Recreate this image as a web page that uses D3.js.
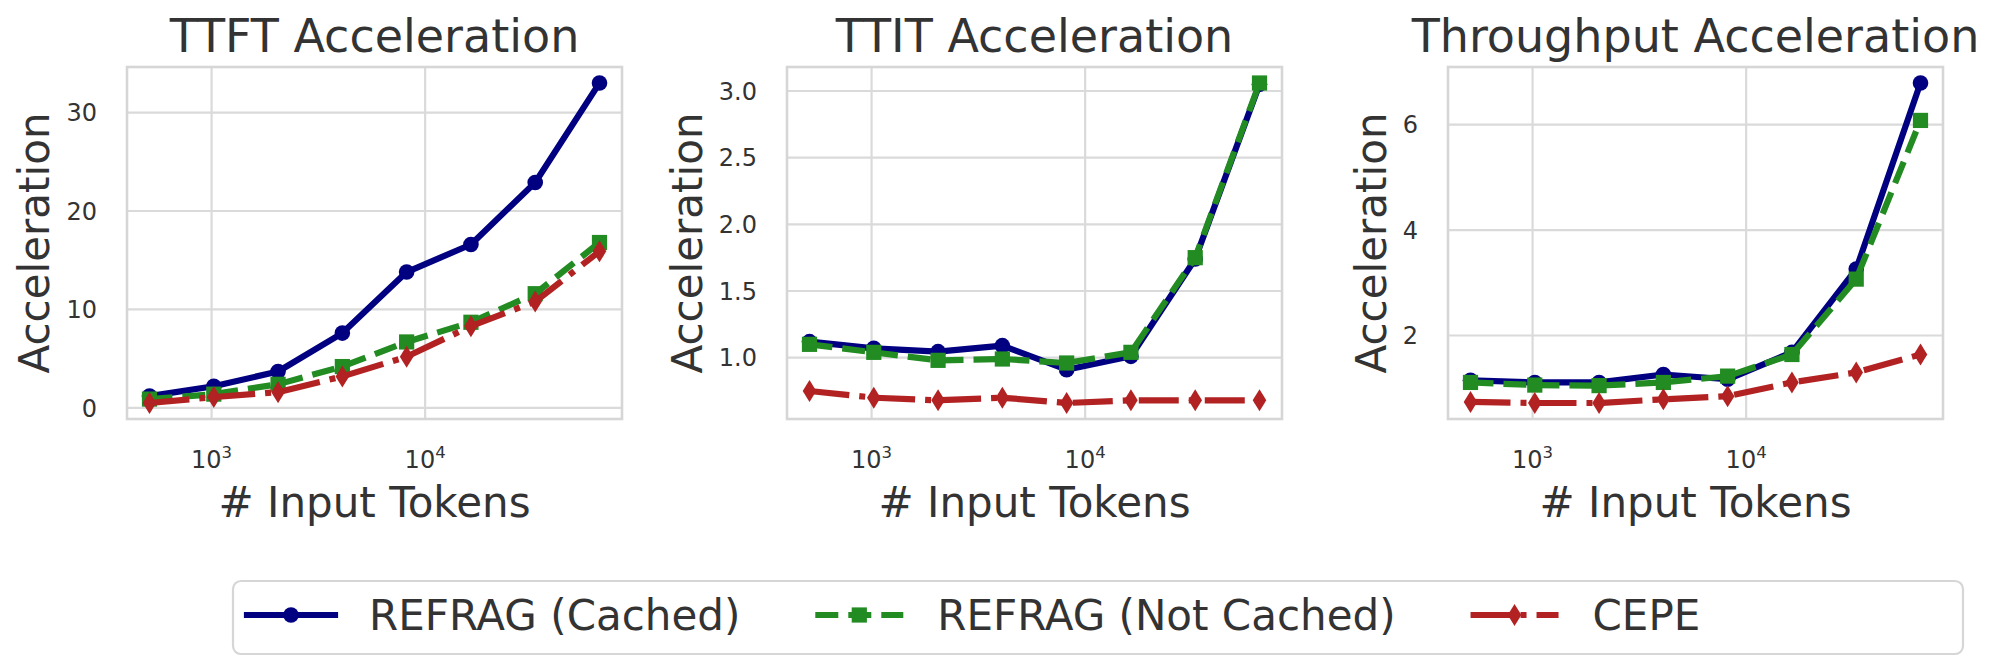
<!DOCTYPE html>
<html>
<head>
<meta charset="utf-8">
<script src="https://cdn.jsdelivr.net/npm/d3@7"></script>
<style>
  body { margin: 0; background: #fff; }
  text { font-family: "DejaVu Sans", sans-serif; fill: #333; }
</style>
</head>
<body>
<div id="container"></div>
<script>
// DATA

const tokens = [512, 1024, 2048, 4096, 8192, 16384, 32768, 65536];
const seriesNames = ["REFRAG (Cached)", "REFRAG (Not Cached)", "CEPE"];
const panelTitles = ["TTFT Acceleration", "TTIT Acceleration", "Throughput Acceleration"];

const ttftCached    = [1.2, 2.2, 3.7, 7.6, 13.8, 16.6, 22.9, 33.0];
const ttftNotCached = [0.9, 1.4, 2.4, 4.2, 6.7, 8.7, 11.6, 16.8];
const ttftCepe      = [0.5, 1.1, 1.6, 3.2, 5.2, 8.3, 10.8, 15.9];

const ttitCached    = [1.12, 1.07, 1.045, 1.09, 0.91, 1.01, 1.74, 3.05];
const ttitNotCached = [1.10, 1.04, 0.98, 0.99, 0.96, 1.04, 1.75, 3.06];
const ttitCepe      = [0.75, 0.70, 0.68, 0.70, 0.66, 0.68, 0.68, 0.68];

const thrCached    = [1.15, 1.11, 1.11, 1.26, 1.17, 1.68, 3.26, 6.79];
const thrNotCached = [1.11, 1.06, 1.05, 1.11, 1.23, 1.64, 3.07, 6.08];
const thrCepe      = [0.74, 0.72, 0.72, 0.79, 0.85, 1.11, 1.30, 1.64];

const xTicks = [1000, 10000];
const xTickExponents = ["3", "4"];
const ttftTicks = [0, 10, 20, 30];
const ttftTickLabels = ["0", "10", "20", "30"];
const ttitTicks = [1.0, 1.5, 2.0, 2.5, 3.0];
const ttitTickLabels = ["1.0", "1.5", "2.0", "2.5", "3.0"];
const thrTicks = [2, 4, 6];
const thrTickLabels = ["2", "4", "6"];

// VARIABLES

const width = 2000;
const height = 672;
const panelLeft = [127, 787, 1448];
const panelW = 495;
const plotTop = 67;
const plotBottom = 419;
const gridColor = "#dadada";

const panels = [
  {title: panelTitles[0], series: [ttftCached, ttftNotCached, ttftCepe], ticks: ttftTicks, labels: ttftTickLabels},
  {title: panelTitles[1], series: [ttitCached, ttitNotCached, ttitCepe], ticks: ttitTicks, labels: ttitTickLabels},
  {title: panelTitles[2], series: [thrCached, thrNotCached, thrCepe], ticks: thrTicks, labels: thrTickLabels}
];

const styles = [
  {color: "#000080", dash: null, cap: "square", marker: "circle"},
  {color: "#228B22", dash: "23,10", cap: "butt", marker: "square"},
  {color: "#B22222", dash: "40,10,6,10", cap: "butt", marker: "thin"}
];

const lw = 6.2;

// marker shapes
function drawMarker(g, type, cx, cy, color) {
  if (type === "circle") {
    g.append("circle").attr("cx", cx).attr("cy", cy).attr("r", 7.8).attr("fill", color);
  } else if (type === "square") {
    g.append("rect").attr("x", cx - 7.6).attr("y", cy - 7.6)
      .attr("width", 15.2).attr("height", 15.2).attr("fill", color);
  } else {
    const hw = 6.8, hh = 11;
    g.append("path")
      .attr("d", `M${cx},${cy - hh}L${cx + hw},${cy}L${cx},${cy + hh}L${cx - hw},${cy}Z`)
      .attr("fill", color);
  }
}

// ELEMENTS

const svg = d3.select("#container")
  .append("svg")
  .attr("width", width)
  .attr("height", height);

svg.append("rect").attr("width", width).attr("height", height).attr("fill", "#fff");

panels.forEach((p, i) => {
  const left = panelLeft[i];
  const right = left + panelW;

  // SCALES (matplotlib style 5% margins)
  const lo = Math.log10(d3.min(tokens)), hi = Math.log10(d3.max(tokens));
  const mx = (hi - lo) * 0.05;
  const xScale = d3.scaleLog()
    .domain([Math.pow(10, lo - mx), Math.pow(10, hi + mx)])
    .range([left, right]);

  const allVals = p.series.flat();
  const vmin = d3.min(allVals), vmax = d3.max(allVals);
  const my = (vmax - vmin) * 0.05;
  const yScale = d3.scaleLinear()
    .domain([vmin - my, vmax + my])
    .range([plotBottom, plotTop]);

  const g = svg.append("g");

  // grid
  g.selectAll(".hgrid")
    .data(p.ticks)
    .join("line")
    .attr("x1", left).attr("x2", right)
    .attr("y1", d => yScale(d)).attr("y2", d => yScale(d))
    .attr("stroke", gridColor).attr("stroke-width", 2.2);

  g.selectAll(".vgrid")
    .data(xTicks)
    .join("line")
    .attr("x1", d => xScale(d)).attr("x2", d => xScale(d))
    .attr("y1", plotTop).attr("y2", plotBottom)
    .attr("stroke", gridColor).attr("stroke-width", 2.2);

  // y tick labels
  const yLabs = g.selectAll(".ytick")
    .data(p.ticks)
    .join("text")
    .attr("x", left - 30)
    .attr("y", d => yScale(d) + 8.7)
    .attr("text-anchor", "end")
    .attr("font-size", 24)
    .text((d, k) => p.labels[k]);

  // x tick labels
  xTicks.forEach((t, k) => {
    const tx = g.append("text")
      .attr("x", xScale(t))
      .attr("y", 468)
      .attr("text-anchor", "middle")
      .attr("font-size", 24);
    tx.append("tspan").text("10");
    tx.append("tspan").attr("font-size", 16.5).attr("dy", -10).text(xTickExponents[k]);
  });

  // series
  p.series.forEach((vals, s) => {
    const st = styles[s];
    const pts = tokens.map((t, k) => [xScale(t), yScale(vals[k])]);
    g.append("path")
      .attr("d", d3.line()(pts))
      .attr("fill", "none")
      .attr("stroke", st.color)
      .attr("stroke-width", lw)
      .attr("stroke-linejoin", "round")
      .attr("stroke-linecap", st.cap)
      .attr("stroke-dasharray", st.dash);
    pts.forEach(pt => drawMarker(g, st.marker, pt[0], pt[1], st.color));
  });

  // spines
  g.append("rect")
    .attr("x", left).attr("y", plotTop)
    .attr("width", panelW).attr("height", plotBottom - plotTop)
    .attr("fill", "none")
    .attr("stroke", "#d6d6d6")
    .attr("stroke-width", 2.6);

  // title
  g.append("text")
    .attr("x", (left + right) / 2)
    .attr("y", 52)
    .attr("text-anchor", "middle")
    .attr("font-size", 46)
    .text(p.title);

  // x label
  g.append("text")
    .attr("x", (left + right) / 2)
    .attr("y", 517)
    .attr("text-anchor", "middle")
    .attr("font-size", 42)
    .text("# Input Tokens");

  // y label, placed left of widest tick label
  let minX = Infinity;
  yLabs.each(function() { minX = Math.min(minX, this.getBBox().x); });
  const ly = (plotTop + plotBottom) / 2;
  const lx = minX - 17;
  g.append("text")
    .attr("transform", `translate(${lx},${ly}) rotate(-90)`)
    .attr("text-anchor", "middle")
    .attr("font-size", 42)
    .text("Acceleration");
});

// LEGEND

const legend = svg.append("g");
legend.append("rect")
  .attr("x", 233).attr("y", 581)
  .attr("width", 1730).attr("height", 73)
  .attr("rx", 8)
  .attr("fill", "#fff")
  .attr("stroke", "#d6d6d6")
  .attr("stroke-width", 2.2);

let cursor = 247;
const legY = 615;
seriesNames.forEach((name, s) => {
  const st = styles[s];
  legend.append("line")
    .attr("x1", cursor).attr("x2", cursor + 88)
    .attr("y1", legY).attr("y2", legY)
    .attr("stroke", st.color)
    .attr("stroke-width", lw)
    .attr("stroke-linecap", st.cap)
    .attr("stroke-dasharray", st.dash);
  drawMarker(legend, st.marker, cursor + 44, legY, st.color);
  const t = legend.append("text")
    .attr("x", cursor + 88 + 34)
    .attr("y", 630)
    .attr("font-size", 42)
    .text(name);
  cursor += 88 + 34 + t.node().getComputedTextLength() + 75;
});
</script>
</body>
</html>
